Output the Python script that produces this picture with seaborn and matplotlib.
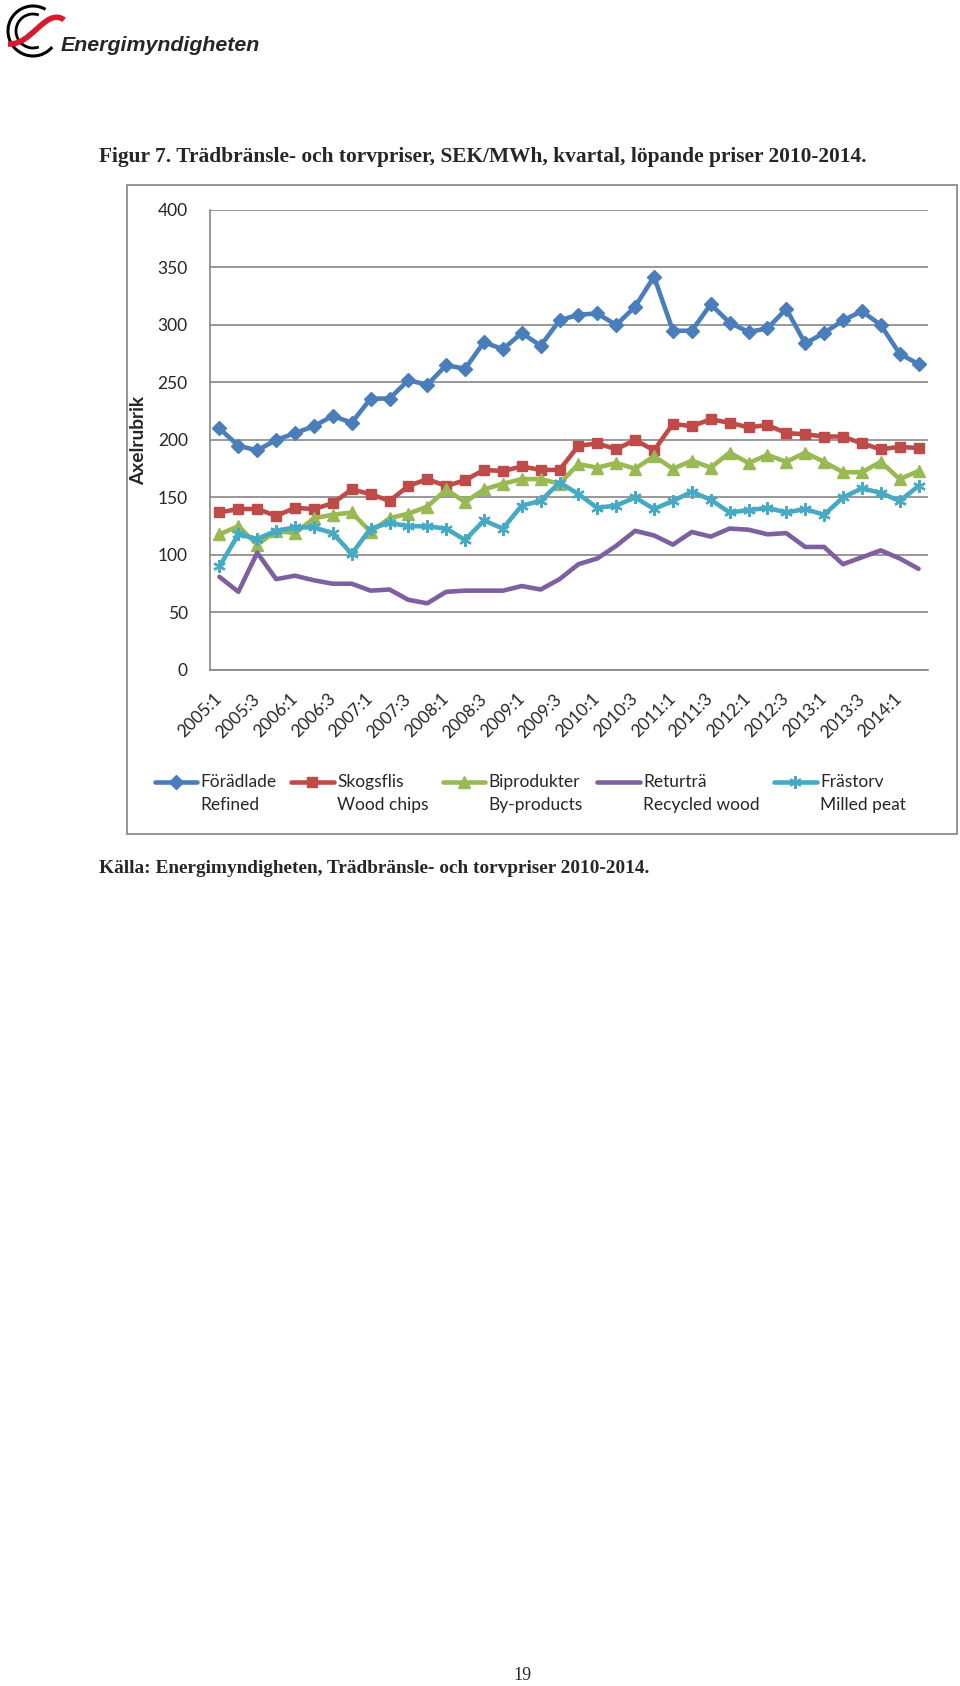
import numpy as np
import matplotlib
matplotlib.use("Agg")
import matplotlib.pyplot as plt
import seaborn as sns
from matplotlib.patches import Rectangle, Arc, PathPatch
from matplotlib.path import Path
from matplotlib.lines import Line2D
from matplotlib.legend_handler import HandlerLine2D

# kvartal 2005:1 - 2014:2
quarters = [f"{y}:{q}" for y in range(2005, 2015) for q in range(1, 5)][:38]

foradlade = [210, 195, 191, 200, 206, 212, 221, 215, 236, 236, 252, 248, 265,
             262, 285, 279, 293, 282, 304, 309, 310, 300, 316, 342, 295, 295,
             318, 302, 294, 297, 314, 284, 293, 304, 312, 300, 275, 266]
skogsflis = [137, 140, 140, 134, 141, 140, 145, 157, 153, 147, 160, 166, 160,
             165, 174, 173, 177, 174, 174, 195, 197, 192, 200, 191, 214, 212,
             218, 215, 211, 213, 206, 205, 203, 203, 197, 192, 194, 193]
biprodukter = [118, 125, 109, 121, 119, 132, 135, 137, 120, 132, 136, 142, 157,
               146, 157, 162, 166, 166, 162, 179, 176, 180, 175, 186, 175, 182,
               176, 189, 180, 187, 181, 189, 181, 172, 172, 181, 166, 173]
returtra = [81, 68, 102, 79, 82, 78, 75, 75, 69, 70, 61, 58, 68,
            69, 69, 69, 73, 70, 79, 92, 97, 108, 121, 117, 109, 120,
            116, 123, 122, 118, 119, 107, 107, 92, 98, 104, 97, 88]
frastorv = [90, 118, 114, 121, 124, 124, 119, 101, 123, 128, 125, 125, 123,
            113, 130, 123, 143, 147, 163, 153, 141, 143, 150, 140, 147, 155,
            148, 137, 139, 141, 137, 140, 135, 150, 158, 154, 147, 160]

names = ["Förädlade", "Skogsflis", "Biprodukter", "Returträ", "Frästorv"]
names_en = ["Refined", "Wood chips", "By-products", "Recycled wood", "Milled peat"]
colors = ["#4A7EBB", "#BE4B48", "#98B954", "#7D60A0", "#46AAC5"]
markers = ["D", "s", "^", None, (6, 2, 0)]
msizes = [7, 7.5, 8.5, 0, 9]

sns.set_style("white")
plt.rcParams['font.family'] = ['Lato', 'DejaVu Sans']

fig = plt.figure(figsize=(9.6, 16.86), dpi=100)
W, H = 960, 1686

# logotyp (förenklad)
lax = fig.add_axes([0, 1 - 64 / H, 270 / W, 64 / H])
lax.set_xlim(0, 270)
lax.set_ylim(64, 0)
lax.axis("off")
lax.add_patch(Arc((33, 31), 50, 50, angle=0, theta1=40, theta2=300, color="black", lw=2.2))
lax.add_patch(Arc((33, 31), 34, 34, angle=0, theta1=70, theta2=290, color="black", lw=2.0))
swoosh = Path([(8, 44), (25, 45), (35, 28), (48, 20), (56, 15), (62, 18), (64, 20)],
              [Path.MOVETO, Path.CURVE4, Path.CURVE4, Path.CURVE4, Path.CURVE4, Path.CURVE4, Path.CURVE4])
lax.add_patch(PathPatch(swoosh, facecolor="none", edgecolor="#D7192D", lw=4))
lax.text(61, 51, "Energimyndigheten", fontsize=15.4, style="italic", weight="bold",
         family=["Liberation Sans", "DejaVu Sans"], va="baseline")

fig.text(99 / W, 1 - 157 / H,
         "Figur 7. Trädbränsle- och torvpriser, SEK/MWh, kvartal, löpande priser 2010-2014.",
         family=["Liberation Serif", "DejaVu Serif"], weight="bold", fontsize=15.4, va="center")
fig.text(99 / W, 1 - 869 / H,
         "Källa: Energimyndigheten, Trädbränsle- och torvpriser 2010-2014.",
         family=["Liberation Serif", "DejaVu Serif"], weight="bold", fontsize=13.9, va="center")
fig.text(522 / W, 1 - 1675 / H, "19", family=["Liberation Serif", "DejaVu Serif"],
         fontsize=13, ha="center", va="center")

# diagramram
fig.add_artist(Rectangle((127 / W, 1 - 834 / H), (957 - 127) / W, (834 - 185) / H,
                         transform=fig.transFigure, fill=False, edgecolor="#8C8C8C", lw=1.3))

ax = fig.add_axes([210 / W, 1 - 670 / H, 718 / W, 460 / H])
series = [foradlade, skogsflis, biprodukter, returtra, frastorv]
for vals, name, col, mk, ms in zip(series, names, colors, markers, msizes):
    sns.lineplot(x=quarters, y=vals, ax=ax, color=col, marker=mk, markersize=ms,
                 markeredgecolor=col, markeredgewidth=1.6 if mk == (6, 2, 0) else 1,
                 linewidth=3.3, sort=False, label=name)

ax.set_xlim(-0.5, len(quarters) - 0.5)
ax.set_ylim(0, 400)
ax.set_yticks(np.arange(0, 401, 50))
ax.set_xticks(range(0, len(quarters), 2))
ax.set_xticklabels(quarters[::2], rotation=45, ha="right", va="center", rotation_mode="anchor")
ax.tick_params(axis="y", length=0, pad=16, labelsize=12.5)
ax.tick_params(axis="x", length=0, pad=19, labelsize=12.5)
ax.yaxis.grid(True, color="#868686", lw=1.2)
ax.set_axisbelow(True)
for s in ["top", "right"]:
    ax.spines[s].set_visible(False)
for s in ["left", "bottom"]:
    ax.spines[s].set_color("#868686")
    ax.spines[s].set_linewidth(1.2)
ax.set_xlabel("")
ax.set_ylabel("Axelrubrik", fontsize=13.8, weight="bold")
ax.yaxis.set_label_coords((147 - 210) / 718, 0.5)

LEG_SPACING = 1.55


class UpperHandler(HandlerLine2D):
    # lägg linjen i höjd med första textraden
    def create_artists(self, legend, orig_handle, xdescent, ydescent, width, height, fontsize, trans):
        return super().create_artists(legend, orig_handle, xdescent, ydescent, width,
                                      height + 1.36 * fontsize, fontsize, trans)


handles, _ = ax.get_legend_handles_labels()
labels = [f"{a}\n{b}" for a, b in zip(names, names_en)]
leg = ax.legend(handles, labels, ncol=5, frameon=False, fontsize=12.5,
                handlelength=2.45, handletextpad=0.2, columnspacing=0.82, borderpad=0,
                loc="upper left", bbox_to_anchor=(146 / W, 1 - 765 / H), bbox_transform=fig.transFigure,
                handler_map={Line2D: UpperHandler()})
for t in leg.get_texts():
    t.set_linespacing(LEG_SPACING)

fig.savefig("out.png", dpi=100, facecolor="white")
